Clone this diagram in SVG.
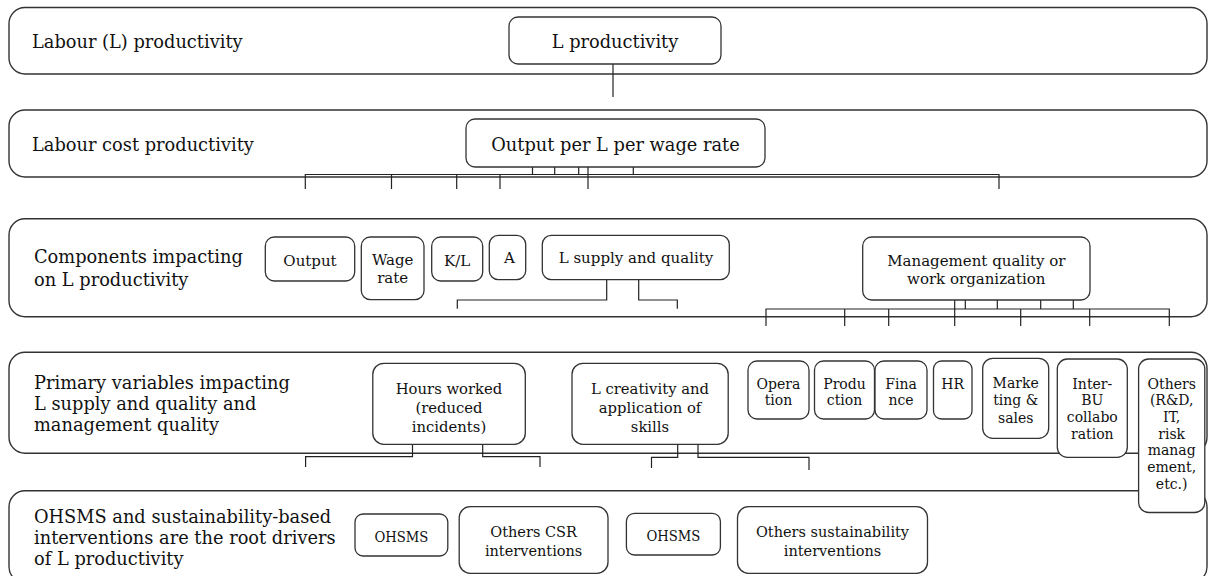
<svg xmlns="http://www.w3.org/2000/svg" width="1209" height="576" viewBox="0 0 1209 576">
<style>
.band{fill:#fff;stroke:#333;stroke-width:1.4}
.box{fill:#fff;stroke:#333;stroke-width:1.3}
text{font-family:"DejaVu Serif","Liberation Serif",serif;fill:#111}
.lbl{font-size:17.8px}
.big{font-size:17.8px;text-anchor:middle}
.bt{font-size:15px;text-anchor:middle}
.mt{font-size:14.8px;text-anchor:middle}
.st{font-size:14px;text-anchor:middle}
.ft{font-size:14.5px;text-anchor:middle}
#connectors path{fill:none;stroke:#222;stroke-width:1.2}
</style>
<rect width="1209" height="576" fill="#fff"/>
<g id="lanes">
  <g id="lane1"><rect class="band" x="9" y="7.5" width="1198" height="66.5" rx="16"/><text class="lbl" x="32" y="48">Labour (L) productivity</text></g>
  <g id="lane2"><rect class="band" x="9" y="110" width="1198" height="67" rx="16"/><text class="lbl" x="32" y="151">Labour cost productivity</text></g>
  <g id="lane3"><rect class="band" x="9" y="218.7" width="1198" height="98" rx="16"/><text class="lbl" x="34" y="263.3">Components impacting</text><text class="lbl" x="34" y="286">on L productivity</text></g>
  <g id="lane4"><rect class="band" x="9" y="352.3" width="1198" height="101" rx="16"/><text class="lbl" x="34" y="389">Primary variables impacting</text><text class="lbl" x="34" y="410">L supply and quality and</text><text class="lbl" x="34" y="431">management quality</text></g>
  <g id="lane5"><rect class="band" x="9" y="490.7" width="1198" height="92" rx="16"/><text class="lbl" x="34" y="523.3">OHSMS and sustainability-based</text><text class="lbl" x="34" y="544.3">interventions are the root drivers</text><text class="lbl" x="34" y="564.8">of L productivity</text></g>
</g>
<g id="connectors">
  <path d="M613,64V97"/>
  <path d="M305.3,189V174.5H999V189M391.5,174.5V189M456.7,174.5V189M500,174.5V189M588,167V189M532.5,167V174.5M554.7,167V174.5M578.7,167V174.5M633.3,167V174.5"/>
  <path d="M606.7,279.7V300H457.3V308.7M638.7,279.7V300H677.3V308.7"/>
  <path d="M766,326V309H1169.3V326M844.7,309V326M888.7,309V326M954.7,300V326M1020.7,309V326M1089.7,309V326M965.3,300V309M997.3,300V309M1040.7,300V309M1073.3,300V309"/>
  <path d="M412.5,444.3V456.7H305.6V467M482.7,444.3V456.7H540V467"/>
  <path d="M677.7,444.3V457.3H651.5V468M698,444.3V457.3H809V470"/>
</g>
<g id="n-lprod"><rect class="box" x="509" y="17" width="212" height="47" rx="9"/><text class="big" x="615" y="48">L productivity</text></g>
<g id="n-output-per"><rect class="box" x="466" y="119" width="299" height="48" rx="9"/><text class="big" x="615.5" y="151">Output per L per wage rate</text></g>
<g id="n-output"><rect class="box" x="265.3" y="237" width="89.4" height="44" rx="9"/><text class="bt" x="310" y="266">Output</text></g>
<g id="n-wage"><rect class="box" x="361.3" y="237" width="62.7" height="62.7" rx="9"/><text class="bt" x="392.7" y="265">Wage</text><text class="bt" x="392.7" y="283.3">rate</text></g>
<g id="n-kl"><rect class="box" x="431.7" y="237" width="51" height="44" rx="9"/><text class="bt" x="457.2" y="266">K/L</text></g>
<g id="n-a"><rect class="box" x="489.3" y="235.3" width="36.4" height="44.4" rx="9"/><text class="bt" x="509.5" y="263.3">A</text></g>
<g id="n-lsupply"><rect class="box" x="542.3" y="235.3" width="187" height="44.4" rx="9"/><text class="bt" x="636" y="263.3">L supply and quality</text></g>
<g id="n-mgmt"><rect class="box" x="862.7" y="237" width="227.3" height="63" rx="9"/><text class="bt" x="976.3" y="265.7">Management quality or</text><text class="bt" x="976.3" y="284.3">work organization</text></g>
<g id="n-hours"><rect class="box" x="372.8" y="363.3" width="152.5" height="81" rx="11"/><text class="mt" x="449" y="394">Hours worked</text><text class="mt" x="449" y="412.7">(reduced</text><text class="mt" x="449" y="431.7">incidents)</text></g>
<g id="n-creativity"><rect class="box" x="572" y="363.3" width="156.2" height="81" rx="11"/><text class="mt" x="650" y="394">L creativity and</text><text class="mt" x="650" y="412.7">application of</text><text class="mt" x="650" y="431.7">skills</text></g>
<g id="n-operation"><rect class="box" x="748" y="361" width="61" height="58" rx="9"/><text class="st" x="778.5" y="388.5">Opera</text><text class="st" x="778.5" y="405.3">tion</text></g>
<g id="n-production"><rect class="box" x="814.5" y="361" width="60" height="58" rx="9"/><text class="st" x="844.5" y="388.5">Produ</text><text class="st" x="844.5" y="405.3">ction</text></g>
<g id="n-finance"><rect class="box" x="875" y="361" width="52" height="58" rx="9"/><text class="st" x="901" y="388.5">Fina</text><text class="st" x="901" y="405.3">nce</text></g>
<g id="n-hr"><rect class="box" x="933.5" y="361" width="38.5" height="58" rx="8"/><text class="st" x="952.7" y="388.5">HR</text></g>
<g id="n-marketing"><rect class="box" x="982.7" y="358.3" width="66" height="80" rx="10"/><text class="st" x="1015.7" y="387.7">Marke</text><text class="st" x="1015.7" y="405">ting &amp;</text><text class="st" x="1015.7" y="422.5">sales</text></g>
<g id="n-interbu"><rect class="box" x="1057.3" y="359" width="70" height="98.3" rx="10"/><text class="st" x="1092.3" y="388.5">Inter-</text><text class="st" x="1092.3" y="405.3">BU</text><text class="st" x="1092.3" y="422.1">collabo</text><text class="st" x="1092.3" y="438.9">ration</text></g>
<g id="n-others"><rect class="box" x="1138.6" y="359" width="66.2" height="153.5" rx="10"/><text class="st" x="1171.7" y="388.5">Others</text><text class="st" x="1171.7" y="405.2">(R&amp;D,</text><text class="st" x="1171.7" y="421.9">IT,</text><text class="st" x="1171.7" y="438.6">risk</text><text class="st" x="1171.7" y="455.3">manag</text><text class="st" x="1171.7" y="472">ement,</text><text class="st" x="1171.7" y="488.7">etc.)</text></g>
<g id="n-ohsms1"><rect class="box" x="355" y="514" width="92.8" height="42" rx="8"/><text class="ft" x="401.4" y="541.5" textLength="54" lengthAdjust="spacingAndGlyphs">OHSMS</text></g>
<g id="n-csr"><rect class="box" x="459.2" y="506.7" width="148.8" height="66.6" rx="11"/><text class="ft" x="533.6" y="537">Others CSR</text><text class="ft" x="533.6" y="556">interventions</text></g>
<g id="n-ohsms2"><rect class="box" x="626.4" y="513.3" width="94" height="41.7" rx="8"/><text class="ft" x="673.4" y="540.7" textLength="54" lengthAdjust="spacingAndGlyphs">OHSMS</text></g>
<g id="n-sust"><rect class="box" x="737.5" y="506.7" width="190" height="66.6" rx="11"/><text class="ft" x="832.5" y="536.7">Others sustainability</text><text class="ft" x="832.5" y="555.5">interventions</text></g>
</svg>
